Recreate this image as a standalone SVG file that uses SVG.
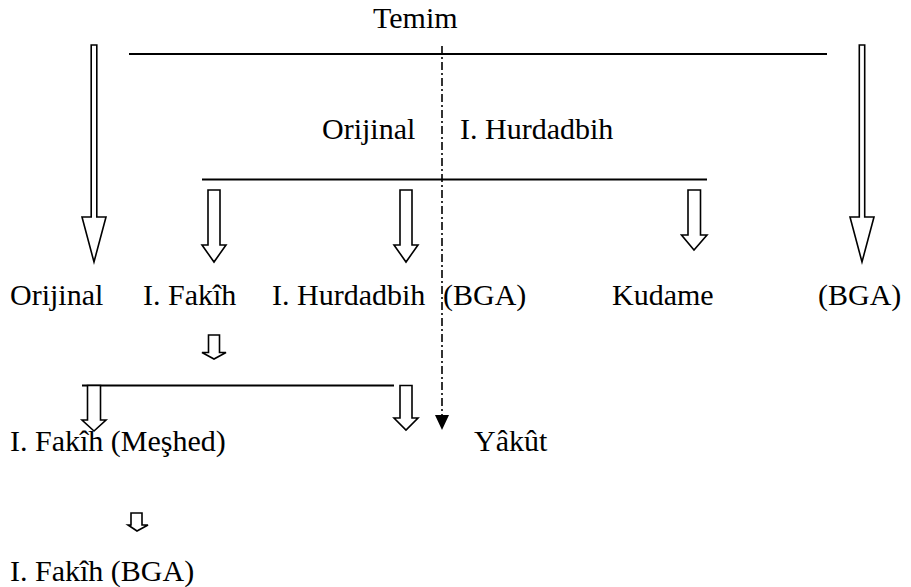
<svg xmlns="http://www.w3.org/2000/svg" width="911" height="587" viewBox="0 0 911 587">
<style>
.t{font-family:"Liberation Serif","Times New Roman",serif;font-size:30px;fill:#000}
.ha{fill:#fff;stroke:#000;stroke-width:1.6;stroke-linejoin:miter}
.ln{stroke:#000;stroke-width:2;fill:none}
</style>
<rect width="911" height="587" fill="#fff"/>
<g id="connectors">
<line class="ln" x1="129" y1="54" x2="827" y2="54"/>
<line class="ln" x1="202" y1="179.5" x2="707" y2="179.5"/>
<line class="ln" x1="82" y1="385.5" x2="394" y2="385.5"/>
<path d="M442,46 V415" stroke="#000" stroke-width="1.6" stroke-dasharray="8 3 2 3" fill="none"/>
<path d="M435,415 L449,415 L442,430 Z" fill="#000"/>
<path class="ha" d="M91.2,45 H96.8 V217 H106 L94,262 L82,217 H91.2 Z"/>
<path class="ha" d="M859.3,45 H864.7 V217 H874 L862,262 L850,217 H859.3 Z"/>
<path class="ha" d="M208,190 H220 V245 H226 L214,262 L202,245 H208 Z"/>
<path class="ha" d="M400,190 H412 V245 H418 L406,262 L394,245 H400 Z"/>
<path class="ha" d="M688,190 H700.5 V235 H707 L694,250 L681.5,235 H688 Z"/>
<path class="ha" d="M208.5,335 H219.5 V352.5 H226 L214,359 L202,352.5 H208.5 Z"/>
<path class="ha" d="M87.5,385.5 H100.5 V420 H106 L94,431 L82,420 H87.5 Z"/>
<path class="ha" d="M400,385.5 H412 V418 H418 L406,430 L394,418 H400 Z"/>
<path class="ha" d="M131,513 H142 V525 H148 L137,531 L128,525 H131 Z"/>
</g>
<g id="temim"><text class="t" x="373" y="28">Temim</text></g>
<g id="orijinal-top"><text class="t" x="322" y="139">Orijinal</text></g>
<g id="hurdadbih-top"><text class="t" x="460" y="139">I. Hurdadbih</text></g>
<g id="orijinal"><text class="t" x="10" y="305">Orijinal</text></g>
<g id="fakih"><text class="t" x="143" y="305">I. Fakîh</text></g>
<g id="hurdadbih"><text class="t" x="272" y="305">I. Hurdadbih</text></g>
<g id="bga1"><text class="t" x="443" y="305">(BGA)</text></g>
<g id="kudame"><text class="t" x="612" y="305">Kudame</text></g>
<g id="bga2"><text class="t" x="818" y="305">(BGA)</text></g>
<g id="fakih-meshed"><text class="t" x="10" y="451">I. Fakîh (Meşhed)</text></g>
<g id="yakut"><text class="t" x="474" y="451">Yâkût</text></g>
<g id="fakih-bga"><text class="t" x="10" y="581">I. Fakîh (BGA)</text></g>
</svg>
